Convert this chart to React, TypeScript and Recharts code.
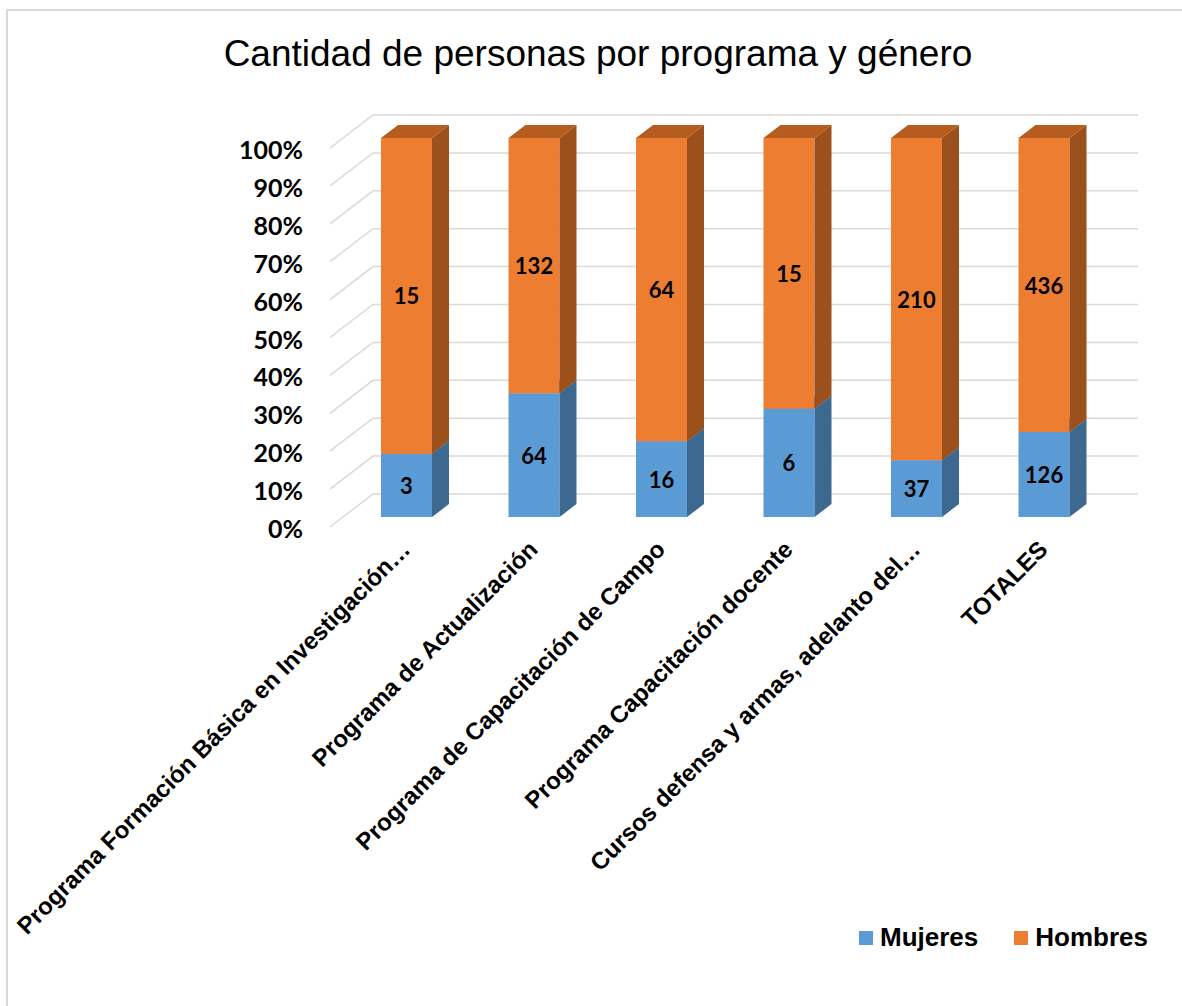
import React from 'react';
import { Bar, BarChart, CartesianGrid, LabelList, XAxis, YAxis } from 'recharts';

const programas = [
  'Programa Formación Básica en Investigación…',
  'Programa de Actualización',
  'Programa de Capacitación de Campo',
  'Programa Capacitación docente',
  'Cursos defensa y armas, adelanto del…',
  'TOTALES',
];
const mujeres = [3, 64, 16, 6, 37, 126];
const hombres = [15, 132, 64, 15, 210, 436];
const porcentajes = [0, 0.1, 0.2, 0.3, 0.4, 0.5, 0.6, 0.7, 0.8, 0.9, 1];

const data = programas.map((programa, i) => ({
  programa,
  Mujeres: mujeres[i],
  Hombres: hombres[i],
}));

const DX = 17;
const DY = 13;

const makeShape = (front: string, side: string, top: string) => (props: any) => {
  const { x, y, width, height } = props;
  if (!height) return <g />;
  return (
    <g>
      <rect x={x} y={y} width={width} height={height} fill={front} />
      <polygon
        points={`${x + width},${y} ${x + width + DX},${y - DY} ${x + width + DX},${y + height - DY} ${x + width},${y + height}`}
        fill={side}
      />
      <polygon
        points={`${x},${y} ${x + DX},${y - DY} ${x + width + DX},${y - DY} ${x + width},${y}`}
        fill={top}
      />
    </g>
  );
};

const GridLine = (props: any) => {
  const y = props.y1;
  return (
    <g key={props.key}>
      <polyline
        points={`330,${y + 10} 373,${y - 23} 1138,${y - 23}`}
        fill="none"
        stroke="#D9D9D9"
        strokeWidth={1.5}
      />
    </g>
  );
};

const YTick = ({ y, payload }: any) => (
  <text
    x={303}
    y={y + 11}
    textAnchor="end"
    dominantBaseline="central"
    fontFamily="Lato"
    fontWeight={700}
    fontSize={25}
    fill="#000"
  >
    {`${Math.round(payload.value * 100)}%`}
  </text>
);

const XTick = ({ x, payload }: any) => {
  const ax = x - 1;
  const ay = 545;
  return (
    <text
      x={ax}
      y={ay}
      dy="0.35em"
      textAnchor="end"
      transform={`rotate(-45, ${ax}, ${ay})`}
      fontFamily="Liberation Sans"
      fontWeight={700}
      fontSize={24}
      fill="#000"
    >
      {payload.value}
    </text>
  );
};

const renderLabel = (p: any) => (
  <text
    x={p.x + p.width / 2}
    y={p.y + p.height / 2}
    textAnchor="middle"
    dominantBaseline="central"
    fontFamily="Lato"
    fontWeight={700}
    fontSize={22}
    fill="#000"
  >
    {p.value}
  </text>
);

const LegendItem = ({ color, label }: { color: string; label: string }) => (
  <div style={{ display: 'flex', alignItems: 'center', marginRight: 36 }}>
    <div style={{ width: 14, height: 14, background: color, marginRight: 7 }} />
    <span style={{ fontFamily: 'Liberation Sans', fontWeight: 700, fontSize: 26 }}>{label}</span>
  </div>
);

const App: React.FC = () => {
  return (
    <div
      style={{
        position: 'absolute',
        left: 0,
        top: 0,
        width: 1182,
        height: 1006,
        background: '#fff',
        overflow: 'hidden',
      }}
    >
      <div
        style={{
          position: 'absolute',
          left: 6,
          top: 9,
          width: 1300,
          height: 1100,
          borderTop: '2px solid #D9D9D9',
          borderLeft: '2px solid #D9D9D9',
        }}
      />
      <div
        style={{
          position: 'absolute',
          left: 0,
          top: 32,
          width: 1196,
          textAlign: 'center',
          fontFamily: 'Liberation Sans',
          fontSize: 37,
          lineHeight: '44px',
          color: '#000',
        }}
      >
        Cantidad de personas por programa y género
      </div>
      <div style={{ position: 'absolute', left: 0, top: 0 }}>
        <BarChart
          width={1182}
          height={1006}
          data={data}
          stackOffset="expand"
          margin={{ top: 138, right: 74, left: 0, bottom: 0 }}
          barSize={51}
        >
          <CartesianGrid vertical={false} horizontal={GridLine} />
          <XAxis
            dataKey="programa"
            axisLine={false}
            tickLine={false}
            interval={0}
            height={489}
            tick={XTick}
          />
          <YAxis
            width={343}
            domain={[0, 1]}
            ticks={porcentajes}
            axisLine={false}
            tickLine={false}
            tick={YTick}
          />
          <Bar
            dataKey="Mujeres"
            stackId="a"
            fill="#5B9BD5"
            isAnimationActive={false}
            shape={makeShape('#5B9BD5', '#3D6890', '#4A80B2')}
          >
            <LabelList dataKey="Mujeres" content={renderLabel} />
          </Bar>
          <Bar
            dataKey="Hombres"
            stackId="a"
            fill="#ED7D31"
            isAnimationActive={false}
            shape={makeShape('#ED7D31', '#9C501C', '#B65C1F')}
          >
            <LabelList dataKey="Hombres" content={renderLabel} />
          </Bar>
        </BarChart>
      </div>
      <div style={{ position: 'absolute', left: 859, top: 922, display: 'flex' }}>
        <LegendItem color="#5B9BD5" label="Mujeres" />
        <LegendItem color="#ED7D31" label="Hombres" />
      </div>
    </div>
  );
};

export default App;
